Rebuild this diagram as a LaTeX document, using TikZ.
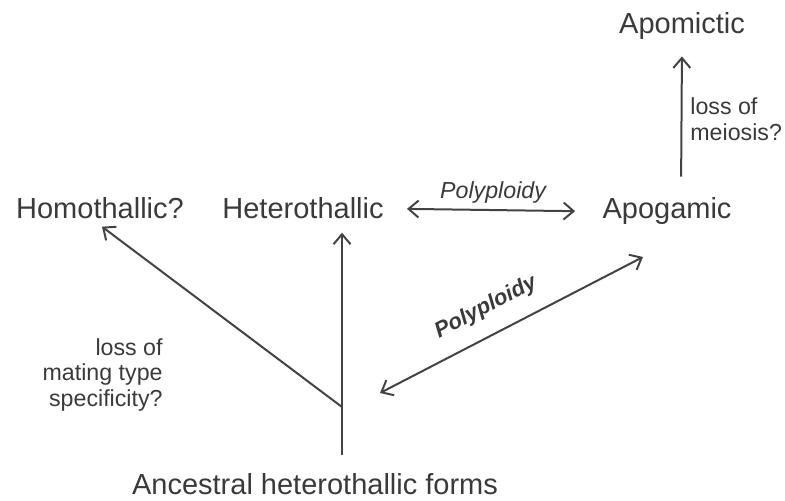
\documentclass[tikz,border=0pt]{standalone}
\usepackage{fontspec}
\setmainfont{Liberation Sans}
\usetikzlibrary{positioning,arrows.meta}
\definecolor{Tinta}{HTML}{3A3A3A}
\definecolor{Trazo}{HTML}{434343}

\begin{document}
\begin{tikzpicture}[x=0.5pt,y=0.5pt,
    every node/.style={text=Tinta,inner sep=2pt},
    estado/.style={font=\fontsize{14.5}{17}\selectfont,anchor=base},
    nota/.style={font=\fontsize{11.6}{12.8}\selectfont},
    flecha/.style={Trazo,line width=1pt,-{Straight Barb[length=5pt,width=8.5pt]}},
    doble/.style={Trazo,line width=1pt,{Straight Barb[length=5pt,width=8.5pt]}-{Straight Barb[length=5pt,width=8.5pt]}}]
        \useasboundingbox (0,0) rectangle (785,501);
        % estados
        \node[estado] (anc) at (315,6) {Ancestral heterothallic forms};
        \node[estado] (homo) at (100,282) {Homothallic?};
        \node[estado] (het) at (303,282) {Heterothallic};
        \node[estado] (apog) at (667,282) {Apogamic};
        \node[estado] (apom) at (682,467) {Apomictic};
        \coordinate (fork) at (342,94);
        \coordinate (polyA) at (380,108);
        \coordinate (polyB) at (643,244);
        % flechas
        \draw[flecha,shorten <=7.5pt,shorten >=4.5pt] (anc.north -| fork) -- (het.south -| fork);
        \draw[flecha] (fork) -- ([xshift=1pt,yshift=-1.5pt]homo.south);
        \draw[doble,shorten <=9.5pt,shorten >=11.5pt] (het.east) -- (apog.west)
            node[midway,above=1pt,font=\fontsize{11.6}{12.8}\selectfont\itshape] (polyh) {Polyploidy};
        \draw[doble] (polyA) -- (polyB)
            node[pos=0.45,sloped,above=6pt,font=\fontsize{11}{12}\selectfont\bfseries\itshape] (polyd) {Polyploidy};
        \draw[flecha,shorten <=8.5pt,shorten >=6pt] ([xshift=7pt]apog.north) -- (apom.south);
        % notas
        \node[nota,anchor=west,align=left] (meio) at (686,382) {loss of\\meiosis?};
        \node[nota,anchor=east,align=right] (mating) at (167,126) {loss of\\mating type\\specificity?};
      \end{tikzpicture}
\end{document}
